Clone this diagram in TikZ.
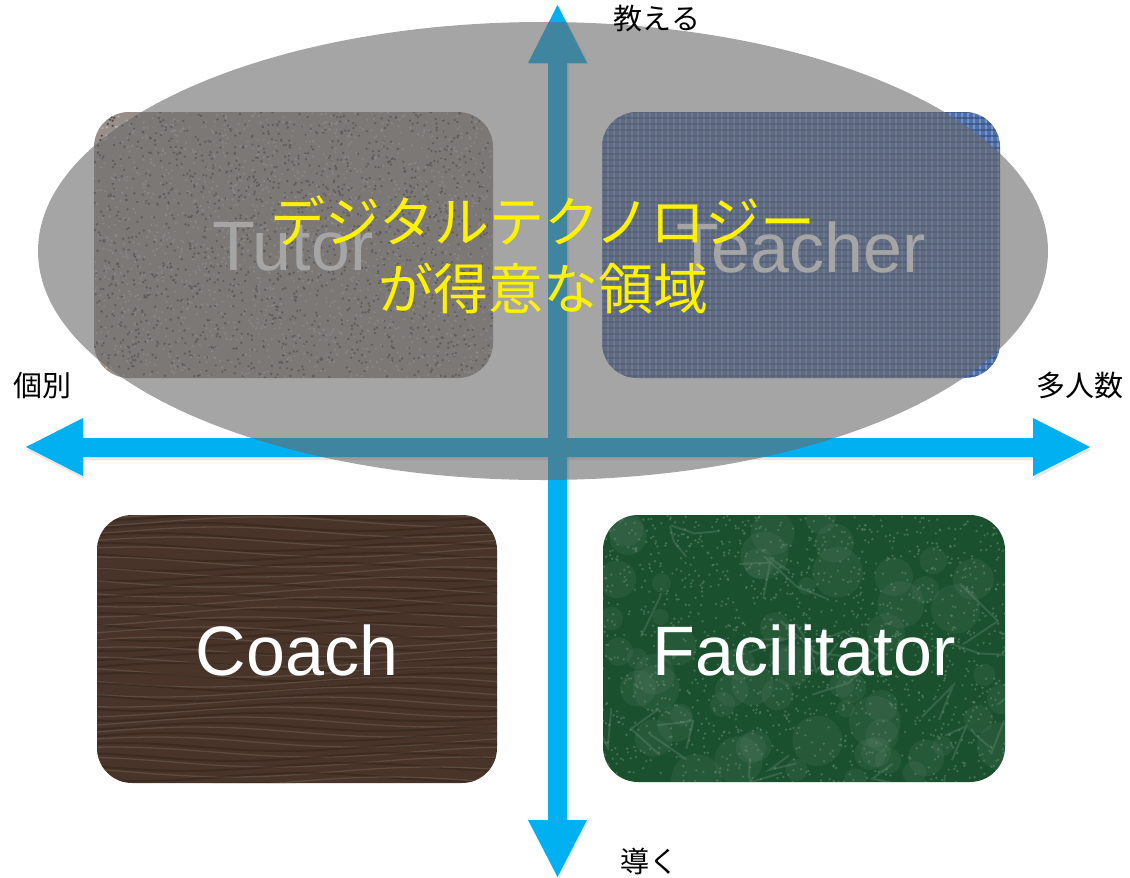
\documentclass[tikz,border=0pt]{standalone}
\usepackage{fontspec}
\setmainfont{Liberation Sans}
\newfontfamily\jpfont{Noto Sans CJK JP}
\usetikzlibrary{shapes.geometric,shadows}

\definecolor{axisblue}{RGB}{0,176,240}
\definecolor{zonegray}{RGB}{105,105,105}
\definecolor{granite}{RGB}{152,143,138}
\definecolor{fabric}{RGB}{76,112,176}
\definecolor{wood}{RGB}{72,52,40}
\definecolor{marble}{RGB}{26,80,45}

\begin{document}
\begin{tikzpicture}[x=1pt,y=-1pt,
    cardtext/.style={text=white, font=\fontsize{70}{84}\selectfont},
    axislabel/.style={text=black, font=\jpfont\fontsize{29}{34}\selectfont},
    card/.style={rounded corners=35pt}]
    \useasboundingbox (0,0) rectangle (1130,878);
    % Tutor card (granite)
    \fill[granite,card] (94,112) rectangle (493,378);
    \begin{scope}
      \clip[card] (94,112) rectangle (493,378);
      \pgfmathsetseed{11}
      \foreach \i in {1,...,1600} {
        \fill[black!55!granite,opacity=0.8] (94+399*rnd,112+266*rnd) circle (1.3pt);
        \fill[white!40!granite,opacity=0.8] (94+399*rnd,112+266*rnd) circle (1.2pt);
      }
    \end{scope}
    \node[cardtext] (tutor) at (293,247) {Tutor};
    % Teacher card (fabric)
    \fill[fabric,card] (602,112) rectangle (1000,378);
    \begin{scope}
      \clip[card] (602,112) rectangle (1000,378);
      \foreach \x in {602,608,...,1000} {
        \draw[white!40!fabric,line width=1.6pt,opacity=0.6] (\x,112) -- (\x,378);
      }
      \foreach \y in {112,118,...,378} {
        \draw[black!40!fabric,line width=1.4pt,opacity=0.5] (602,\y) -- (1000,\y);
      }
    \end{scope}
    \node[cardtext] (teacher) at (801,247) {Teacher};
    % Coach card (wood)
    \fill[wood,card] (97,515) rectangle (497,783);
    \begin{scope}
      \clip[card] (97,515) rectangle (497,783);
      \foreach \k in {0,...,27} {
        \draw[white!25!wood,line width=1.3pt,opacity=0.45]
          plot[domain=97:497,samples=25,smooth] (\x,{512+\k*10+5*sin(\x*0.9+\k*37)});
        \draw[black!30!wood,line width=2pt,opacity=0.5]
          plot[domain=97:497,samples=25,smooth] (\x,{517+\k*10+4*sin(\x*1.1+\k*53)});
      }
    \end{scope}
    \node[cardtext] (coach) at (297,650) {Coach};
    % Facilitator card (marble)
    \fill[marble,card] (603,515) rectangle (1005,782);
    \begin{scope}
      \clip[card] (603,515) rectangle (1005,782);
      \pgfmathsetseed{5}
      \foreach \i in {1,...,60} {
        \fill[white!30!marble,opacity=0.18] (603+402*rnd,515+267*rnd) circle ({8+18*rnd});
      }
      \foreach \i in {1,...,1400} {
        \fill[white!30!marble,opacity=0.6] (603+402*rnd,515+267*rnd) circle (1.3pt);
      }
      \foreach \i in {1,...,30} {
        \draw[white!35!marble,line width=2pt,opacity=0.35]
          (603+402*rnd,515+267*rnd) -- ++(80*rnd-40,80*rnd-40) -- ++(80*rnd-40,80*rnd-40);
      }
    \end{scope}
    \node[cardtext] (facil) at (804,650) {Facilitator};
    % axes
    \fill[axisblue,drop shadow={shadow xshift=1pt,shadow yshift=-3pt,opacity=0.2}]
      (26,447) -- (83,418) -- (83,438) -- (1033,438) -- (1033,418) -- (1090,447)
      -- (1033,476) -- (1033,457) -- (83,457) -- (83,476) -- cycle;
    \fill[axisblue,drop shadow={shadow xshift=2pt,shadow yshift=-1pt,opacity=0.2}]
      (557.5,5) -- (587,63) -- (567,63) -- (567,820) -- (587,820) -- (557.5,877)
      -- (528,820) -- (548,820) -- (548,63) -- (528,63) -- cycle;
    % digital technology zone
    \node[ellipse,fill=zonegray,fill opacity=0.6,inner sep=0pt,
      minimum width=1010pt,minimum height=458pt] (zone) at (543,251) {};
    \node[text=yellow,align=center,font=\jpfont\fontsize{55}{67}\selectfont]
      (digital) at (543,255) {デジタルテクノロジー\\が得意な領域};
    % axis labels
    \node[axislabel] (teach) at (657,19) {教える};
    \node[axislabel] (guide) at (649,861) {導く};
    \node[axislabel] (indiv) at (42,386) {個別};
    \node[axislabel] (many) at (1080,385) {多人数};
\end{tikzpicture}
\end{document}
